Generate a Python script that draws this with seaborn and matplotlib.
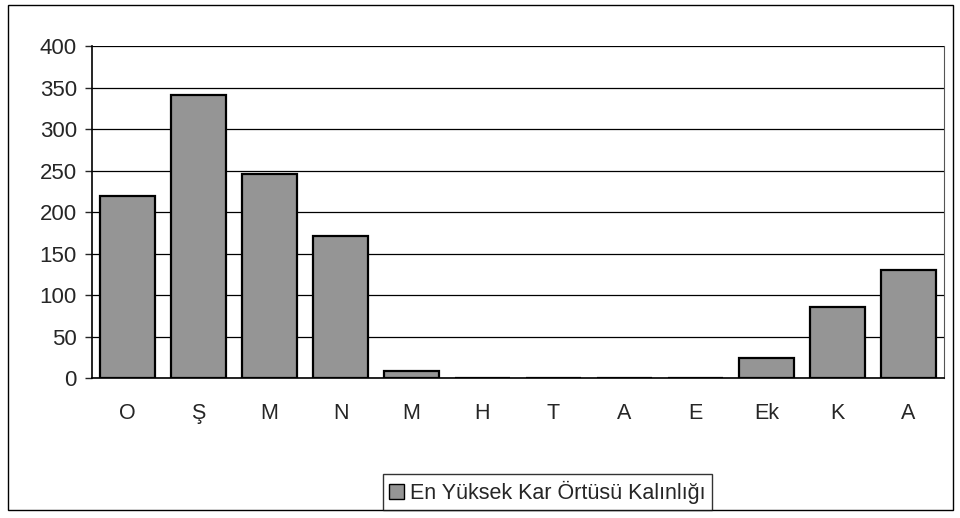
import numpy as np
import pandas as pd
import matplotlib
matplotlib.use("Agg")
import matplotlib.pyplot as plt
import seaborn as sns
from matplotlib.patches import Rectangle, Patch

## data
months = ["O", "Ş", "M", "N", "M ", "H", "T", "A", "E", "Ek", "K", "A "]
snow_depth = [220, 341, 246, 171, 9, 0, 0, 0, 0, 24, 86, 130]
series_name = "En Yüksek Kar Örtüsü Kalınlığı"

df = pd.DataFrame({"ay": months, "kalinlik": snow_depth})

sns.set_style("white")
plt.rcParams["font.family"] = ["Liberation Sans", "DejaVu Sans"]

fig = plt.figure(figsize=(9.6, 5.18), dpi=100)
ax = fig.add_axes([0.096, 0.27, 0.887, 0.641])

sns.barplot(data=df, x="ay", y="kalinlik", color="#959595", width=0.78,
            edgecolor="black", linewidth=1.6, saturation=1, ax=ax)

ax.set_ylim(0, 400)
ax.set_yticks(np.arange(0, 401, 50))
ax.set_xlim(-0.5, len(months) - 0.5)
ax.set_xticks(range(len(months)))
ax.set_xticklabels([m.strip() for m in months])
ax.yaxis.grid(True, color="black", linewidth=0.9)
ax.set_axisbelow(True)
ax.set_xlabel("")
ax.set_ylabel("")
ax.tick_params(axis="y", labelsize=16, length=5, width=1, direction="out", pad=6, left=True)
ax.tick_params(axis="x", labelsize=15.5, length=0, pad=18)

# category boundary ticks, Excel style
ax.set_xticks(np.arange(-0.5, len(months), 1), minor=True)
ax.tick_params(axis="x", which="minor", length=5, width=1, direction="out")

for side in ["left", "bottom"]:
    ax.spines[side].set_color("black")
    ax.spines[side].set_linewidth(1.2)
ax.spines["top"].set_visible(False)
ax.spines["right"].set_color("#555555")
ax.spines["right"].set_linewidth(0.8)
ax.spines["right"].set_linestyle((0, (2, 1)))

handle = Patch(facecolor="#959595", edgecolor="black", linewidth=1)
leg = fig.legend([handle], [series_name], loc="center", bbox_to_anchor=(0.57, 0.05),
                 fontsize=15.5, frameon=True, fancybox=False, edgecolor="black",
                 handlelength=0.7, handleheight=0.7, handletextpad=0.25, borderpad=0.3,
                 borderaxespad=0)
leg.get_frame().set_linewidth(1)

# outer chart border
fig.patches.append(Rectangle((0.008, 0.015), 0.985, 0.975, transform=fig.transFigure,
                             fill=False, edgecolor="black", linewidth=1))

fig.savefig("out.png", dpi=100)
